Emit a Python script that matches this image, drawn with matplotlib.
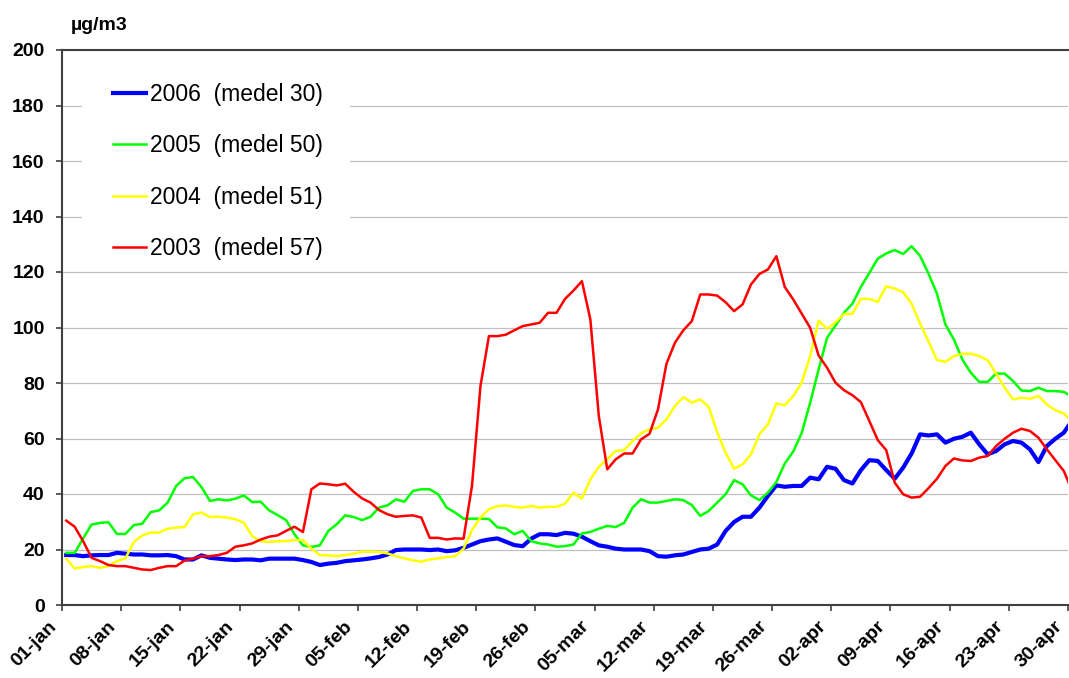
import numpy as np
import matplotlib
matplotlib.use("Agg")
import matplotlib.pyplot as plt
import matplotlib.transforms as mtransforms
from matplotlib.patches import Rectangle

plt.rcParams['font.family'] = ['Liberation Sans', 'DejaVu Sans']

# daily values 01-jan .. 30-apr (ug/m3)
pm2006 = [18.0, 18.0, 17.6, 17.9, 18.0, 18.0, 18.8, 18.5, 18.2, 18.2,
          17.9, 17.9, 18.0, 17.6, 16.4, 16.4, 17.9, 17.0, 16.7, 16.4,
          16.2, 16.4, 16.4, 16.1, 16.7, 16.7, 16.7, 16.7, 16.2, 15.5,
          14.4, 14.9, 15.2, 15.8, 16.1, 16.4, 16.8, 17.3, 18.2, 19.8,
          20.0, 20.0, 20.0, 19.8, 20.0, 19.4, 19.7, 20.6, 21.8, 23.0,
          23.6, 24.0, 22.8, 21.6, 21.2, 23.9, 25.5, 25.5, 25.2, 26.0,
          25.7, 24.6, 23.0, 21.5, 21.0, 20.3, 20.0, 20.0, 20.0, 19.4,
          17.6, 17.4, 17.9, 18.2, 19.1, 20.0, 20.3, 21.8, 26.7, 29.9,
          31.8, 31.8, 35.1, 39.3, 43.1, 42.6, 42.9, 42.9, 45.9, 45.3,
          49.8, 49.1, 45.0, 43.8, 48.6, 52.2, 51.9, 48.6, 45.5, 49.5,
          54.6, 61.5, 61.1, 61.5, 58.5, 59.9, 60.6, 62.1, 57.9, 54.3,
          55.5, 57.9, 59.1, 58.5, 56.1, 51.5, 57.3, 59.9, 62.1, 66.5]

pm2005 = [18.8, 18.8, 24.0, 29.0, 29.6, 29.8, 25.6, 25.6, 28.8, 29.3,
          33.5, 34.1, 36.9, 42.9, 45.7, 46.1, 42.5, 37.5, 38.1, 37.7,
          38.3, 39.5, 37.1, 37.2, 34.1, 32.4, 30.6, 25.5, 21.5, 20.9,
          21.5, 26.7, 29.1, 32.3, 31.7, 30.6, 31.8, 35.1, 35.9, 38.1,
          37.2, 41.1, 41.7, 41.7, 39.9, 35.1, 33.3, 31.1, 31.1, 31.1,
          31.0, 28.0, 27.6, 25.5, 26.7, 23.0, 22.2, 21.8, 21.0, 21.2,
          21.8, 25.8, 26.3, 27.5, 28.5, 28.1, 29.6, 35.1, 38.1, 36.9,
          36.9, 37.5, 38.1, 37.8, 36.0, 32.1, 33.9, 36.9, 39.9, 45.0,
          43.5, 39.5, 37.8, 40.5, 44.3, 51.0, 55.3, 62.0, 72.9, 84.9,
          96.3, 100.7, 105.3, 108.6, 114.6, 119.7, 124.8, 126.7, 127.9, 126.5,
          129.3, 125.8, 119.4, 112.2, 101.1, 95.7, 88.5, 83.7, 80.4, 80.4,
          83.4, 83.4, 80.7, 77.3, 77.1, 78.3, 77.1, 77.1, 76.8, 75.0]

pm2004 = [16.7, 13.1, 13.7, 14.0, 13.4, 14.0, 15.8, 16.8, 22.7, 25.1,
          26.1, 26.1, 27.5, 27.9, 28.1, 32.7, 33.3, 31.7, 31.8, 31.5,
          30.9, 29.7, 24.8, 23.0, 22.7, 23.0, 23.0, 23.4, 23.4, 20.3,
          18.0, 17.9, 17.6, 18.0, 18.5, 19.2, 19.2, 19.1, 18.6, 17.6,
          16.8, 16.1, 15.6, 16.4, 16.8, 17.3, 17.6, 20.3, 27.0, 31.5,
          34.5, 35.6, 35.9, 35.4, 35.1, 35.7, 35.1, 35.4, 35.4, 36.5,
          40.5, 38.3, 45.3, 49.8, 52.5, 55.5, 55.8, 59.1, 61.9, 63.3,
          63.9, 66.9, 71.7, 74.9, 72.9, 74.1, 71.4, 62.3, 54.9, 49.1,
          50.7, 54.3, 61.5, 65.1, 72.6, 72.0, 75.3, 80.1, 89.7, 102.5,
          99.5, 101.9, 104.9, 104.9, 110.3, 110.3, 109.2, 114.9, 114.0, 112.7,
          108.6, 101.4, 94.9, 88.3, 87.6, 89.7, 90.5, 90.6, 89.7, 88.2,
          83.4, 78.3, 74.1, 74.7, 74.3, 75.3, 72.3, 70.2, 69.0, 66.0]

pm2003 = [30.4, 28.2, 23.0, 17.0, 15.8, 14.4, 14.0, 14.0, 13.4, 12.8,
          12.6, 13.4, 14.0, 14.0, 16.0, 16.7, 17.6, 17.6, 18.0, 18.8,
          21.0, 21.5, 22.2, 23.6, 24.6, 25.1, 26.7, 28.2, 26.3, 41.7,
          43.8, 43.5, 43.1, 43.7, 40.8, 38.4, 36.9, 34.2, 32.7, 31.8,
          32.1, 32.3, 31.5, 24.2, 24.2, 23.6, 24.0, 23.9, 43.0, 78.9,
          96.9, 96.9, 97.4, 99.0, 100.5, 101.1, 101.7, 105.3, 105.3, 110.3,
          113.3, 116.7, 102.9, 68.1, 48.9, 52.5, 54.6, 54.6, 59.7, 61.7,
          70.5, 86.9, 94.5, 99.0, 102.3, 111.9, 111.9, 111.5, 109.1, 105.9,
          108.3, 115.5, 119.3, 120.9, 125.7, 114.6, 110.1, 105.0, 99.9, 89.9,
          85.5, 80.1, 77.4, 75.6, 73.1, 66.3, 59.4, 55.8, 44.1, 39.9,
          38.7, 39.0, 42.1, 45.5, 50.1, 52.8, 52.1, 51.9, 53.1, 53.7,
          57.3, 59.9, 62.1, 63.5, 62.7, 60.3, 56.1, 52.2, 48.3, 41.1]

tick_labels = ["01-jan", "08-jan", "15-jan", "22-jan", "29-jan", "05-feb",
               "12-feb", "19-feb", "26-feb", "05-mar", "12-mar", "19-mar",
               "26-mar", "02-apr", "09-apr", "16-apr", "23-apr", "30-apr"]

series_labels = ["2006  (medel 30)", "2005  (medel 50)",
                 "2004  (medel 51)", "2003  (medel 57)"]

days = np.arange(len(pm2006)) + 0.5

fig = plt.figure(figsize=(10.69, 6.78), dpi=100)
ax = fig.add_axes([62 / 1069, 1 - 605 / 678, 1006 / 1069, 555 / 678])

ax.plot(days, pm2006, color="#0000FF", lw=3.0, label=series_labels[0], zorder=3)
ax.plot(days, pm2005, color="#00FF00", lw=1.8, label=series_labels[1], zorder=3)
ax.plot(days, pm2004, color="#FFFF00", lw=1.8, label=series_labels[2], zorder=3)
ax.plot(days, pm2003, color="#FF0000", lw=1.8, label=series_labels[3], zorder=3)

ax.set_xlim(0, 119)
ax.set_ylim(0, 200)
ax.set_xticks(np.arange(0, 120, 7))
ax.set_xticklabels(tick_labels, rotation=45, ha="right", va="center",
                   rotation_mode="anchor", fontsize=14, fontweight="bold")
ax.set_yticks(np.arange(0, 201, 20))
ax.set_yticklabels([str(v) for v in range(0, 201, 20)], fontsize=14,
                   fontweight="bold")
ax.tick_params(axis="both", direction="out", length=4.5, width=1.2, color="#404040")
ax.tick_params(axis="x", pad=9)
ax.tick_params(axis="y", pad=8)

# pull the slanted date labels so their ends sit under the ticks
shift = mtransforms.ScaledTranslation(-8 / 100, 0, fig.dpi_scale_trans)
for lab in ax.get_xticklabels():
    lab.set_transform(lab.get_transform() + shift)

ax.grid(axis="y", color="#C0C0C0", lw=0.9, zorder=0)
ax.set_axisbelow(True)
ax.spines["right"].set_visible(False)
for s in ["left", "bottom", "top"]:
    ax.spines[s].set_color("#404040")
    ax.spines[s].set_linewidth(1.5)

# white legend box hides the grid lines behind it (display pixels, origin bottom-left)
ax.add_patch(Rectangle((82, 678 - 268), 268, 210, transform=None,
                       facecolor="white", edgecolor="none", zorder=1))

fig.text(71 / 1069, 1 - 25 / 678, "µg/m3", fontsize=14, fontweight="bold",
         ha="left", va="center")

leg = ax.legend(loc="upper left", bbox_to_anchor=(113 / 1069, 1 - 83 / 678),
                bbox_transform=fig.transFigure, frameon=False, fontsize=16.5,
                handlelength=1.44, handletextpad=0.17, labelspacing=1.235,
                borderpad=0, borderaxespad=0)

fig.savefig("out.png", dpi=100)
